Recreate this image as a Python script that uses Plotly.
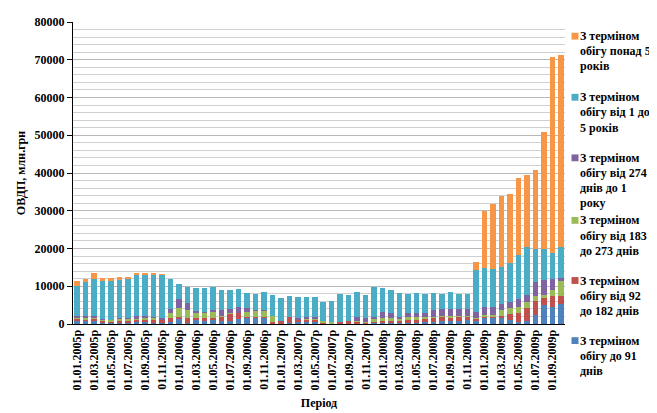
import plotly.graph_objects as go

years = [2005, 2006, 2007, 2008, 2009]
months = []
for yy in years:
    for mm in range(1, 13):
        if yy == 2009 and mm > 10:
            break
        months.append(f"01.{mm:02d}.{yy}р")

tick_labels = months[::2]

do_91 = [900, 900, 1000, 500, 400, 300, 400, 500, 500, 300, 300, 600, 1400, 200, 1100, 1000, 1300, 700, 900, 1300,
         1800, 1800, 1800, 100, 100, 200, 500, 500, 500, 200, 0, 0, 100, 200, 200, 500, 300, 300, 400, 300,
         300, 500, 500, 700, 700, 900, 1100, 1000, 1800, 1800, 1500, 1100, 400, 800, 2500, 5000, 4600, 5300]
vid_92 = [500, 400, 500, 300, 300, 600, 400, 600, 800, 1000, 800, 900, 500, 1400, 600, 500, 300, 1400, 1900, 1700,
          100, 100, 100, 300, 600, 1600, 600, 700, 700, 100, 0, 500, 600, 400, 300, 100, 500, 600, 400, 700,
          800, 1000, 1100, 1300, 900, 1200, 900, 500, 200, 300, 700, 1600, 2400, 3500, 3500, 2000, 2800, 2100]
vid_183 = [300, 400, 200, 300, 300, 600, 600, 400, 500, 400, 200, 1300, 2300, 2100, 1200, 1500, 1800, 100, 100, 0,
           1200, 1600, 1700, 1600, 0, 0, 100, 100, 100, 500, 400, 0, 0, 100, 100, 600, 700, 600, 700, 800,
           800, 300, 300, 200, 500, 100, 100, 200, 300, 300, 1400, 1500, 1800, 1500, 1300, 600, 1500, 4100]
vid_274 = [300, 300, 300, 100, 0, 100, 100, 500, 400, 200, 300, 1200, 2300, 1900, 600, 300, 300, 1500, 1000, 1600,
           1150, 200, 100, 0, 0, 0, 500, 600, 600, 0, 0, 0, 0, 1100, 900, 600, 1800, 1300, 400, 1000,
           1100, 1200, 1900, 1800, 2000, 1900, 1900, 1600, 2200, 2200, 1700, 1600, 1900, 1800, 3800, 4100, 3000, 600]
vid_1_5 = [8000, 9000, 9900, 10300, 10300, 10100, 10500, 11000, 11000, 11100, 11400, 7900, 4000, 4100, 6050, 6200,
           6200, 5200, 5000, 4600, 4050, 4300, 4700, 5800, 6100, 5700, 5400, 5350, 5350, 5000, 5700, 7500,
           6900, 6800, 6100, 8050, 6300, 6200, 6300, 5200, 5300, 5000, 4500, 4000, 4300, 3850, 3950, 10950,
           10350, 10100, 9800, 10400, 11900, 12700, 8800, 8200, 6900, 8400]
ponad_5 = [1500, 1000, 1500, 700, 900, 800, 500, 300, 300, 300, 200, 0, 0, 0, 0, 0, 0, 0, 0, 0,
           0, 0, 0, 0, 0, 0, 0, 0, 0, 0, 0, 0, 0, 0, 0, 0, 0, 0, 0, 0,
           0, 0, 0, 0, 0, 0, 0, 2250, 15200, 17100, 18800, 18300, 20300, 19250, 20900, 30900, 52000, 50800]

series_names = [
    "З терміном обігу до 91 днів",
    "З терміном обігу від 92 до 182 днів",
    "З терміном обігу від 183 до 273 днів",
    "З терміном обігу від 274 днів до 1 року",
    "З терміном обігу від 1 до 5 років",
    "З терміном обігу понад 5 років",
]
legend_lines = [
    ["З терміном", "обігу до 91", "днів"],
    ["З терміном", "обігу від 92", "до 182 днів"],
    ["З терміном", "обігу від 183", "до 273 днів"],
    ["З терміном", "обігу від 274", "днів до 1", "року"],
    ["З терміном", "обігу від 1 до", "5 років"],
    ["З терміном", "обігу понад 5", "років"],
]
series_values = [do_91, vid_92, vid_183, vid_274, vid_1_5, ponad_5]
colors = ["#4F81BD", "#C0504D", "#9BBB59", "#8064A2", "#4BACC6", "#F79646"]

FONT = "Liberation Serif"
W, H = 657, 413
ML, MR, MT, MB = 65, 100, 7, 97
PW, PH = W - ML - MR, H - MT - MB


def px_x(px):
    return (px - ML) / PW


def px_y(py):
    return (H - MB - py) / PH


fig = go.Figure()
for name, vals, color in zip(series_names, series_values, colors):
    fig.add_trace(go.Bar(x=months, y=vals, name=name, marker_color=color,
                         marker_line_width=0, showlegend=False))

legend_first_line = [21.5, 84, 146, 210, 271.5, 333]
LINE_STEP = 15.5
shapes = []
annotations = []
for slot, idx in enumerate(reversed(range(len(series_names)))):
    cy = legend_first_line[slot]
    shapes.append(dict(type="rect", xref="paper", yref="paper",
                       x0=px_x(563.5), x1=px_x(570.5), y0=px_y(cy - 3.5), y1=px_y(cy + 3.5),
                       fillcolor=colors[idx], line=dict(width=0)))
    for li, line in enumerate(legend_lines[idx]):
        annotations.append(dict(xref="paper", yref="paper", x=px_x(571), y=px_y(cy + li * LINE_STEP),
                                xanchor="left", yanchor="middle", align="left", showarrow=False,
                                text=line, borderpad=0,
                                font=dict(family=FONT, size=12, color="black", weight="bold")))

fig.update_layout(
    width=W, height=H,
    barmode="stack", bargap=0.35,
    paper_bgcolor="white", plot_bgcolor="white",
    margin=dict(l=ML, r=MR, t=MT, b=MB),
    showlegend=False,
    shapes=shapes, annotations=annotations,
)
fig.update_yaxes(range=[0, 80000], tickvals=list(range(0, 80001, 10000)), tickformat="d",
                 showgrid=True, gridcolor="#b8b8b8", gridwidth=1,
                 minor=dict(dtick=2000, showgrid=True, gridcolor="#d0d0d0", gridwidth=1),
                 showline=True, linecolor="black", linewidth=1, ticks="outside", ticklen=5,
                 tickcolor="black", zeroline=False,
                 title=dict(text="ОВДП, млн.грн", font=dict(family=FONT, size=12, color="black", weight="bold"), standoff=6),
                 tickfont=dict(family=FONT, size=12, color="black", weight="bold"))
fig.update_xaxes(type="category", tickmode="array", tickvals=tick_labels, ticktext=tick_labels,
                 tickangle=-90, showline=True, linecolor="black", linewidth=1, showgrid=False,
                 title=dict(text="Період", font=dict(family=FONT, size=12, color="black", weight="bold"), standoff=9),
                 tickfont=dict(family=FONT, size=12, color="black", weight="bold"))

fig.write_html("out.html")
